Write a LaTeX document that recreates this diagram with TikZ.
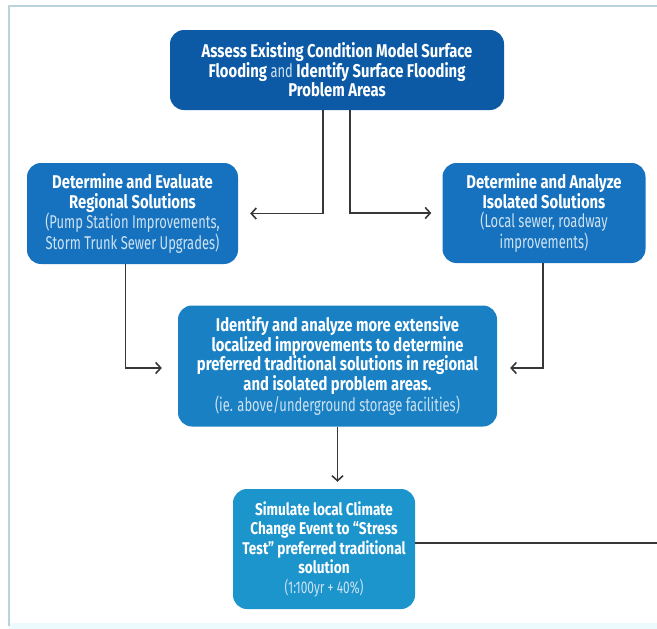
\documentclass[tikz,border=0pt]{standalone}
\usepackage{fontspec}
\setmainfont{Fira Sans}[FakeStretch=0.8]
\newfontfamily\notefont{Fira Sans}[FakeStretch=0.7]
\usepackage{tikz}
\usetikzlibrary{shapes,arrows.meta}
\usetikzlibrary{positioning}
\definecolor{framecol}{RGB}{186,212,222}
\definecolor{stripcol}{RGB}{236,250,253}
\definecolor{linecol}{RGB}{55,55,55}
\definecolor{assesscol}{RGB}{12,90,166}
\definecolor{solcol}{RGB}{22,114,190}
\definecolor{localcol}{RGB}{26,128,196}
\definecolor{stresscol}{RGB}{28,148,204}
\definecolor{notecol}{RGB}{205,226,242}
\tikzset{auto,>={Straight Barb[length=5pt,width=11pt]}, font=\fontsize{18.5}{19.5}\selectfont\bfseries}
\tikzstyle{block} = [rectangle, rounded corners=14pt, text=white, text centered, align=center, inner sep=2pt]
\tikzstyle{line} = [draw=linecol, line width=1.6pt]
\tikzstyle{input} = [coordinate]
\newcommand{\note}[1]{{\notefont\mdseries\color{notecol}#1}}

\begin{document}
\begin{tikzpicture}[x=1pt,y=-1pt]
		\useasboundingbox (0,0) rectangle (657,629);
		\fill [stripcol] (9,623) rectangle (657,629);
		\draw [framecol, line width=2.5pt] (9,626) |- (660,6);

		\node [block, fill=assesscol, minimum width=334pt, minimum height=80pt] (assess) at (337,70) {Assess Existing Condition Model Surface\\ Flooding \note{and} Identify Surface Flooding\\ Problem Areas};
		\node [block, fill=solcol, minimum width=211pt, minimum height=101pt] (regional) at (132.5,213.5) {Determine and Evaluate\\ Regional Solutions\\ \note{(Pump Station Improvements,}\\ \note{Storm Trunk Sewer Upgrades)}};
		\node [block, fill=solcol, minimum width=203pt, minimum height=100pt] (isolated) at (544,213) {Determine and Analyze\\ Isolated Solutions\\ \note{(Local sewer, roadway}\\ \note{improvements)}};
		\node [block, fill=localcol, minimum width=319pt, minimum height=121pt] (localized) at (337.5,366) {Identify and analyze more extensive\\ localized improvements to determine\\ preferred traditional solutions in regional\\ and isolated problem areas.\\ \note{(ie. above/underground storage facilities)}};
		\node [block, fill=stresscol, minimum width=182pt, minimum height=120pt, font=\fontsize{17}{19.5}\selectfont\bfseries] (stress) at (324,549) {Simulate local Climate\\ Change Event to ``Stress\\ Test'' preferred traditional\\ solution\\ \note{(1:100yr + 40\%)}};
		\node [input] (exit) at (657,543) {};

		\draw [line, ->, shorten >=12pt] ([xshift=-14pt]assess.south) |- (regional.east);
		\draw [line, ->, shorten >=11pt] ([xshift=13pt]assess.south) |- (isolated.west);
		\draw [line, ->, shorten >=16pt] ([xshift=-7pt]regional.south) |- ([yshift=-2pt]localized.west);
		\draw [line, ->, shorten >=13pt] ([xshift=-1pt]isolated.south) |- ([yshift=-2pt]localized.east);
		\draw [line, ->, shorten >=7pt] (localized.south) -- (localized.south |- stress.north);
		\draw [line] (stress.east |- exit) -- (exit);
	\end{tikzpicture}
\end{document}
